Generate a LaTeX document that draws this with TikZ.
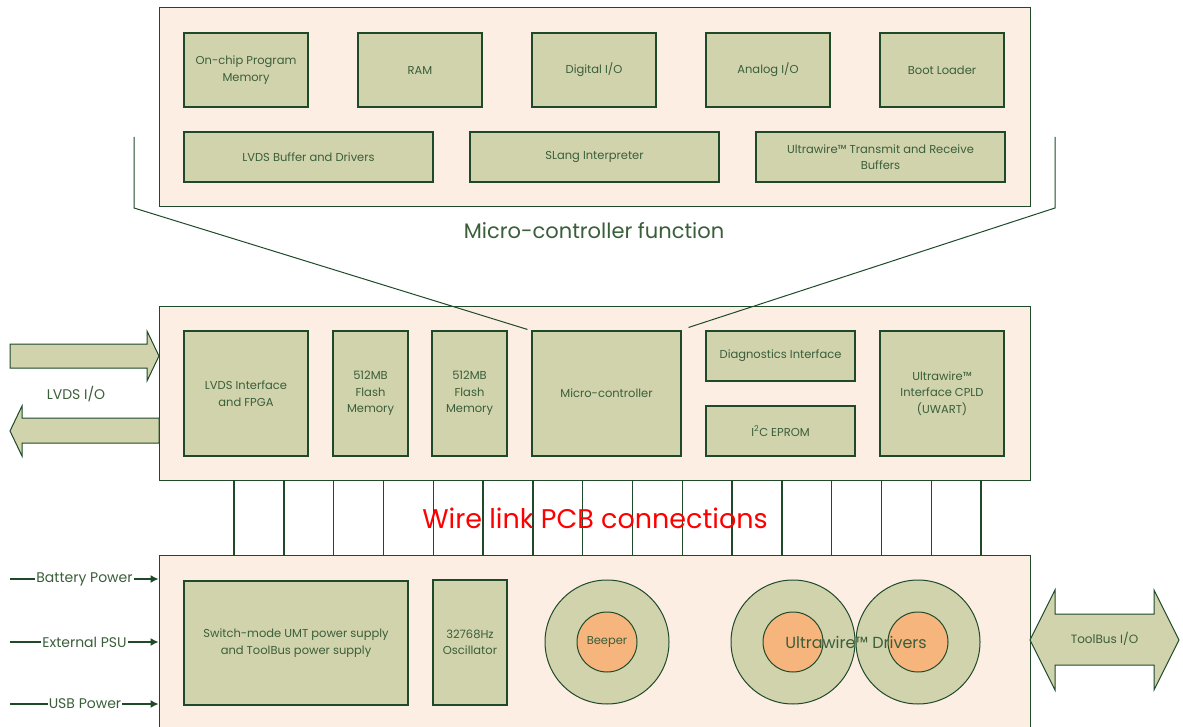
\documentclass[tikz,border=0pt]{standalone}
\usepackage{fontspec}
\setmainfont{Poppins}
\usetikzlibrary{arrows.meta,calc}
\definecolor{cont}{HTML}{FDEEE4}
\definecolor{blkfill}{HTML}{D1D3AC}
\definecolor{edge}{HTML}{1E4A2A}
\definecolor{txt}{HTML}{3A5E3A}
\definecolor{orng}{HTML}{F7B57E}
\tikzset{
  container/.style={draw=edge, fill=cont, line width=1pt, inner sep=0pt},
  blk/.style={draw=edge, fill=blkfill, line width=1.1pt, inner sep=2pt, align=center,
     text=txt, font=\fontsize{11.5}{16.5}\selectfont},
  outerc/.style={circle, draw=edge, fill=blkfill, line width=1pt, inner sep=0pt, minimum size=124pt},
  innerc/.style={circle, draw=edge, fill=orng, line width=1pt, inner sep=0pt, minimum size=60pt,
     text=txt, font=\fontsize{11.5}{13.5}\selectfont},
  wire/.style={draw=edge, line width=1.4pt},
  fat/.style={draw=edge, fill=blkfill, line width=1pt},
  lbl/.style={text=txt, inner sep=1pt, font=\fontsize{14}{16}\selectfont},
  pw/.style={draw=edge, line width=1.2pt},
  funnel/.style={draw=edge, line width=1pt},
}
\begin{document}
\begin{tikzpicture}[x=1pt,y=-1pt]
\useasboundingbox (0,0) rectangle (1183,727);
\begin{scope}
\clip (0,0) rectangle (1183,727);
% containers
\node[container, minimum width=871pt, minimum height=199pt] (top) at (594.5,107.5) {};
\node[container, minimum width=871pt, minimum height=174pt] (mid) at (594.5,393) {};
\node[container, minimum width=871pt, minimum height=200pt] (bot) at (594.5,655) {};

% top blocks
\node[blk, minimum width=124pt, minimum height=74pt] (opm) at (246,70) {On-chip Program\\Memory};
\node[blk, minimum width=124pt, minimum height=74pt] (ram) at (420,70) {RAM};
\node[blk, minimum width=124pt, minimum height=74pt] (dio) at (594,70) {Digital I/O};
\node[blk, minimum width=124pt, minimum height=74pt] (aio) at (768,70) {Analog I/O};
\node[blk, minimum width=124pt, minimum height=74pt] (boot) at (942,70) {Boot Loader};
\node[blk, minimum width=249pt, minimum height=50pt] (lvb) at (308.5,157) {LVDS Buffer and Drivers};
\node[blk, minimum width=249pt, minimum height=50pt] (sli) at (594.5,157) {SLang Interpreter};
\node[blk, minimum width=249pt, minimum height=50pt] (utr) at (880.5,157) {Ultrawire™ Transmit and Receive\\Buffers};

\node[text=txt, font=\fontsize{21}{24}\selectfont] (mcf) at (594,231) {Micro-controller function};

% middle blocks
\node[blk, minimum width=124pt, minimum height=125pt] (lvi) at (246,393.5) {LVDS Interface\\and FPGA};
\node[blk, minimum width=75pt, minimum height=125pt] (fl1) at (370.5,393.5) {512MB\\Flash\\Memory};
\node[blk, minimum width=75pt, minimum height=125pt] (fl2) at (469.5,393.5) {512MB\\Flash\\Memory};
\node[blk, minimum width=149pt, minimum height=125pt] (mc) at (606.5,393.5) {Micro-controller};
\node[blk, minimum width=149pt, minimum height=50pt] (diag) at (780.5,356) {Diagnostics Interface};
\node[blk, minimum width=149pt, minimum height=50pt] (eep) at (780.5,431) {I\textsuperscript{2}C EPROM};
\node[blk, minimum width=124pt, minimum height=125pt] (uw) at (942,393.5) {Ultrawire™\\Interface CPLD\\(UWART)};

% funnel lines
\coordinate (fl) at (134,137);
\coordinate (fr) at (1055,137);
\draw[funnel] (fl) -- (134,208) -- ($(mc.north west)+(-4,-1)$);
\draw[funnel] (fr) -- (1055,208) -- ($(mc.north east)+(7,-3)$);

% wire links
\foreach \i in {0,...,15} {
  \coordinate (w\i) at ({234+49.8*\i},0);
  \draw[wire] (mid.south -| w\i) -- (bot.north -| w\i);
}
\node[text=red, font=\fontsize{27}{30}\selectfont] (wl) at (595,518) {Wire link PCB connections};

% bottom blocks
\node[blk, minimum width=224pt, minimum height=124pt] (psu) at (296,643) {Switch-mode UMT power supply\\and ToolBus power supply};
\node[blk, minimum width=74pt, minimum height=125pt] (osc) at (470,642.5) {32768Hz\\Oscillator};
\node[outerc] (bpo) at (607,642) {};
\node[innerc] (bpi) at (607,642) {Beeper};
\node[outerc] (u1o) at (793,642) {};
\node[innerc] (u1i) at (793,642) {};
\node[outerc] (u2o) at (918,642) {};
\node[innerc] (u2i) at (918,642) {};
\node[text=txt, font=\fontsize{16}{18}\selectfont] (uwd) at (856,642) {Ultrawire™ Drivers};

% LVDS arrows
\draw[fat] (10,344) -- (147,344) -- (147,331) -- (159,356) -- (147,381) -- (147,368) -- (10,368) -- cycle;
\draw[fat] (159,418) -- (22,418) -- (22,406) -- (10,431) -- (22,456) -- (22,443) -- (159,443) -- cycle;
\node[lbl] (lvio) at (76,394) {LVDS I/O};

% power inputs
\node[lbl] (bat) at (84.5,579) {Battery Power};
\node[lbl] (ext) at (84.5,642) {External PSU};
\node[lbl] (usb) at (85,704) {USB Power};
\foreach \n in {bat,ext,usb} {
  \draw[pw] (10,0 |- \n.west) -- (\n.west);
  \draw[pw, -{Latex[length=8pt,width=8pt]}] (\n.east) -- (bot.west |- \n.east);
}

% ToolBus double arrow
\draw[fat] (1030,640) -- (1055,590) -- (1055,614) -- (1154,614) -- (1154,590) -- (1179,640) -- (1154,690) -- (1154,665) -- (1055,665) -- (1055,690) -- cycle;
\node[text=txt, font=\fontsize{12}{14}\selectfont] (tb) at (1104.5,639) {ToolBus I/O};
\end{scope}
\end{tikzpicture}
\end{document}
